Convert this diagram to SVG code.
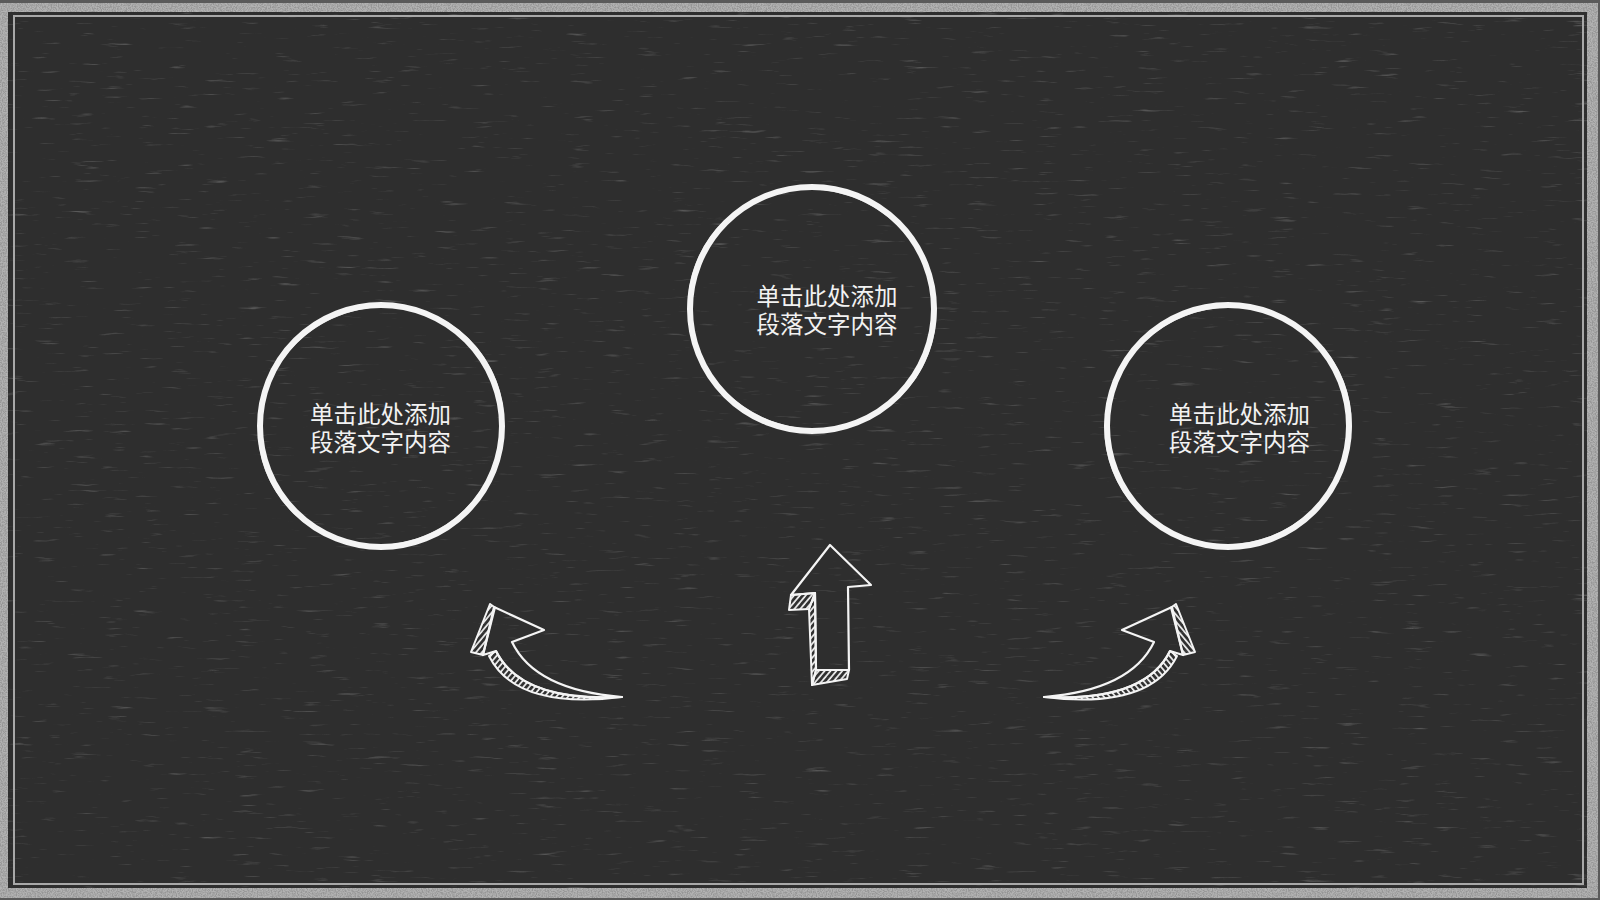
<svg xmlns="http://www.w3.org/2000/svg" width="1600" height="900" viewBox="0 0 1600 900">
  <style>
    .ring{fill:none;stroke:#f4f4f4;stroke-width:6}
    .ring2{fill:none;stroke:#f4f4f4;stroke-width:2.2;opacity:0.85}
    .lbl{font-family:"Noto Sans CJK SC","Noto Sans",sans-serif;font-size:23.5px;fill:#f2f2f2;text-anchor:middle}
    .face{fill:none;stroke:#f4f4f4;stroke-width:2.2;stroke-linejoin:round}
    .band{fill:url(#hatch);stroke:#f4f4f4;stroke-width:2;stroke-linejoin:round}
  </style>
  <defs>
    <pattern id="hatch" patternUnits="userSpaceOnUse" width="4.5" height="4.5" patternTransform="rotate(40)">
      <line x1="1" y1="0" x2="1" y2="4.5" stroke="#f4f4f4" stroke-width="1.7"/>
    </pattern>
    <filter id="chalk" x="0" y="0" width="100%" height="100%">
      <feTurbulence type="fractalNoise" baseFrequency="0.03 0.3" numOctaves="3" seed="7"/>
      <feColorMatrix type="matrix" values="0 0 0 0 1  0 0 0 0 1  0 0 0 0 1  4 0 0 0 -2.7"/>
    </filter>
    <filter id="grain" x="0" y="0" width="100%" height="100%">
      <feTurbulence type="fractalNoise" baseFrequency="0.8" numOctaves="2" seed="3"/>
      <feColorMatrix type="matrix" values="0 0 0 0 0.2  0 0 0 0 0.2  0 0 0 0 0.2  -3 0 0 0 1.9"/>
    </filter>
  </defs>

  <!-- board frame -->
  <rect x="0" y="0" width="1600" height="900" fill="#5a5a5a"/>
  <rect x="0" y="3" width="1598" height="895" fill="#b2b2b2"/>
  <rect x="0" y="3" width="1598" height="895" filter="url(#grain)" opacity="0.5"/>
  <rect x="8" y="12" width="1579" height="876" fill="#2e2e2e"/>
  <rect x="8" y="12" width="1579" height="876" filter="url(#chalk)" opacity="0.2"/>
  <rect x="14" y="16" width="1569" height="868" fill="none" stroke="#a8a8a8" stroke-width="2"/>

  <!-- nodes -->
  <g id="node-left">
    <circle class="ring" cx="381" cy="426" r="121"/>
    <ellipse class="ring2" cx="381" cy="426" rx="123" ry="119" transform="rotate(-30 381 426)"/>
    <text class="lbl" x="380.5" y="422.5">单击此处添加<tspan x="380.5" dy="28">段落文字内容</tspan></text>
  </g>
  <g id="node-center">
    <circle class="ring" cx="812" cy="309" r="122"/>
    <ellipse class="ring2" cx="812" cy="309" rx="124" ry="120" transform="rotate(25 812 309)"/>
    <text class="lbl" x="827" y="304.5">单击此处添加<tspan x="827" dy="28">段落文字内容</tspan></text>
  </g>
  <g id="node-right">
    <circle class="ring" cx="1228" cy="426" r="121"/>
    <ellipse class="ring2" cx="1228" cy="426" rx="123" ry="119" transform="rotate(-20 1228 426)"/>
    <text class="lbl" x="1239.5" y="422.5">单击此处添加<tspan x="1239.5" dy="28">段落文字内容</tspan></text>
  </g>

  <!-- connectors -->
  <g id="connectors">
    <g id="arrow-left">
      <path class="band" d="M 490,604 L 495,607.5 L 483,655 L 471,652 Z"/>
      <path class="band" d="M 496,651 Q 521,702 622,697 Q 516,710 489,656 Z"/>
      <path class="face" d="M 494,607 L 544,630 L 512,642 Q 535,690 622,697 Q 521,702 496,651 L 483,655 Z"/>
    </g>
    <g id="arrow-right" transform="translate(1666,0) scale(-1,1)">
      <path class="band" d="M 490,604 L 495,607.5 L 483,655 L 471,652 Z"/>
      <path class="band" d="M 496,651 Q 521,702 622,697 Q 516,710 489,656 Z"/>
      <path class="face" d="M 494,607 L 544,630 L 512,642 Q 535,690 622,697 Q 521,702 496,651 L 483,655 Z"/>
    </g>
    <g id="arrow-up">
      <path class="band" d="M 791,595 L 815,593 L 809,609 L 789,610 Z"/>
      <path class="band" d="M 815,593 L 816,670 L 812,685 L 809,609 Z"/>
      <path class="band" d="M 816,670 L 849,670 L 847,679 L 812,685 Z"/>
      <path class="face" d="M 830,545 L 871,585 L 848,587 L 849,670 L 816,670 L 815,593 L 791,595 Z"/>
    </g>
  </g>
</svg>
